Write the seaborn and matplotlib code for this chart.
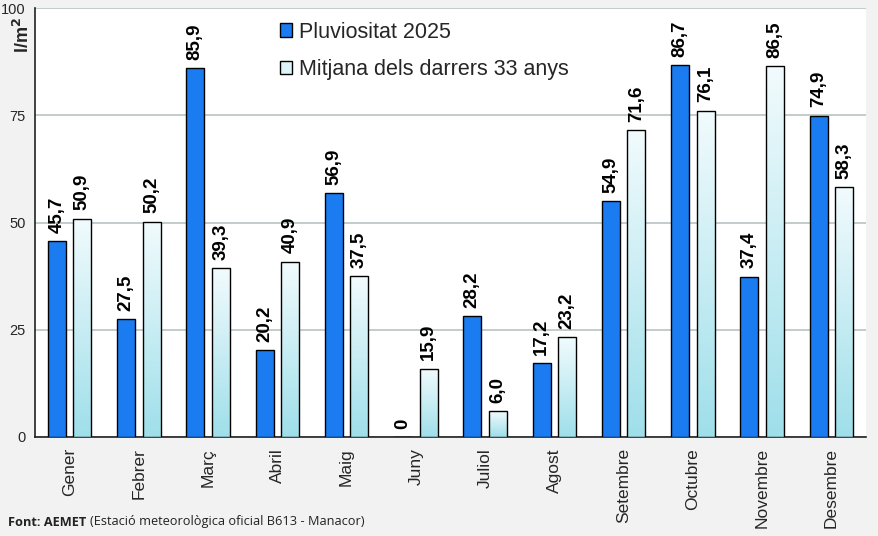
import matplotlib
matplotlib.use("Agg")
import matplotlib.pyplot as plt
import matplotlib.colors as mcolors
import numpy as np
import pandas as pd
import seaborn as sns

months = ["Gener", "Febrer", "Març", "Abril", "Maig", "Juny",
          "Juliol", "Agost", "Setembre", "Octubre", "Novembre", "Desembre"]
rain_2025 = [45.7, 27.5, 85.9, 20.2, 56.9, 0, 28.2, 17.2, 54.9, 86.7, 37.4, 74.9]
avg_33 = [50.9, 50.2, 39.3, 40.9, 37.5, 15.9, 6.0, 23.2, 71.6, 76.1, 86.5, 58.3]
series = ["Pluviositat 2025", "Mitjana dels darrers 33 anys"]

df = pd.DataFrame({
    "mes": months * 2,
    "valor": rain_2025 + avg_33,
    "serie": [series[0]] * 12 + [series[1]] * 12,
})

sns.set_style("white")
plt.rcParams["font.family"] = ["Liberation Sans", "DejaVu Sans"]

blue = "#1a7cf0"
cyan_top = "#f2fbfd"
cyan_bot = "#9fdfea"

fig = plt.figure(figsize=(8.79, 5.36), dpi=100, facecolor="#f2f2f2")
ax = fig.add_axes([35 / 879, 1 - 437 / 536, 831 / 879, 429 / 536])
ax.set_facecolor("white")

sns.barplot(data=df, x="mes", y="valor", hue="serie", order=months,
            hue_order=series, palette=[blue, "#d0eef3"], width=0.74, gap=0.3,
            saturation=1, edgecolor="black", linewidth=1.0, ax=ax,
            legend=True, zorder=3)

# gradient fill for the average bars
grad = mcolors.LinearSegmentedColormap.from_list("g", [cyan_bot, cyan_top])
img = np.linspace(0, 1, 256).reshape(-1, 1)
for cont in ax.containers[1:]:
    for p in cont.patches:
        x0, y0 = p.get_x(), p.get_y()
        w, h = p.get_width(), p.get_height()
        p.set_facecolor("none")
        im = ax.imshow(img, cmap=grad, origin="lower", aspect="auto",
                       extent=[x0, x0 + w, y0, y0 + h], zorder=2.9,
                       interpolation="bilinear")
        im.set_clip_path(p)
ax.set_xlim(-0.5, 11.5)
ax.set_ylim(0, 100)

# value labels
for cont, vals in zip(ax.containers, [rain_2025, avg_33]):
    labels = [("0" if v == 0 else f"{v:.1f}".replace(".", ",")) for v in vals]
    ax.bar_label(cont, labels=labels, rotation=90, padding=6,
                 fontsize=13.5, fontweight="bold", color="black")

ax.set_yticks([0, 25, 50, 75, 100])
ax.set_yticklabels(["0", "25", "50", "75", "100"], fontsize=10.5)
ax.grid(axis="y", color="#b8c4c4", linewidth=1.2, zorder=0)
ax.set_axisbelow(True)

ax.set_xticks(range(12))
ax.set_xticklabels(months, rotation=90, fontsize=12.5)
ax.tick_params(axis="x", length=0, pad=8)
ax.set_xticks(np.arange(-0.5, 12, 1), minor=True)
ax.tick_params(axis="x", which="minor", length=6, width=1.2, direction="inout")
ax.tick_params(axis="y", length=5, width=1.2, direction="inout", pad=4)

for s in ["top", "right"]:
    ax.spines[s].set_visible(False)
for s in ["left", "bottom"]:
    ax.spines[s].set_color("#222222")
    ax.spines[s].set_linewidth(1.2)

ax.set_xlabel("")
ax.set_ylabel("")
ax.text(-0.014, 0.937, "l/m$^\\mathbf{2}$", transform=ax.transAxes, rotation=90,
        fontsize=13, fontweight="bold", ha="center", va="center")

leg = ax.legend(loc="upper left", bbox_to_anchor=(0.271, 1.013), frameon=False,
                fontsize=15.5, handlelength=0.6, handleheight=0.6,
                handletextpad=0.3, labelspacing=0.75)
for h in leg.legend_handles:
    h.set_edgecolor("black")
    h.set_linewidth(1.0)
leg.legend_handles[1].set_facecolor("#dff4f8")

fy = 1 - 522 / 536
t1 = fig.text(8 / 879, fy, "Font: AEMET ", fontsize=9.2, fontweight="bold",
              family=["Open Sans", "DejaVu Sans"], va="center", color="#222222")
fig.canvas.draw()
bb = t1.get_window_extent(renderer=fig.canvas.get_renderer())
fig.text(bb.x1 / fig.bbox.width, fy, "(Estació meteorològica oficial B613 - Manacor)",
         fontsize=9.2, family=["Open Sans", "DejaVu Sans"], va="center", color="#222222")

fig.savefig("out.png", dpi=100, facecolor=fig.get_facecolor())
